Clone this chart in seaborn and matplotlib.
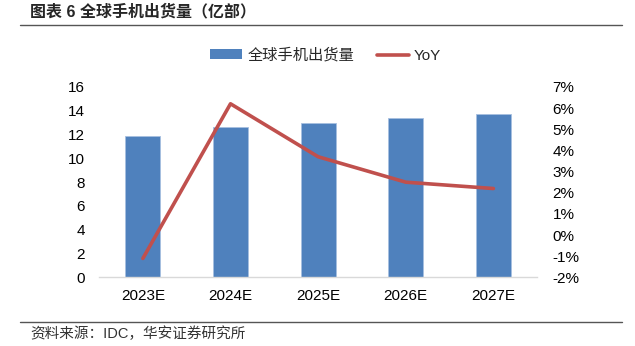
import matplotlib
matplotlib.use("Agg")
import matplotlib.pyplot as plt
import seaborn as sns
import pandas as pd
from matplotlib.patches import Patch
from matplotlib.lines import Line2D
from matplotlib.ticker import FuncFormatter, MultipleLocator

# Global smartphone shipments (100 million units) and year-over-year growth (%)
years = ["2023E", "2024E", "2025E", "2026E", "2027E"]
shipments = [11.9, 12.6, 13.0, 13.4, 13.7]
yoy = [-1.1, 6.2, 3.7, 2.5, 2.2]

bar_label = "全球手机出货量"
line_label = "YoY"
title = "图表 6 全球手机出货量（亿部）"
source = "资料来源：IDC，华安证券研究所"

sns.set_theme(style="white")
plt.rcParams["font.family"] = ["Liberation Sans", "Noto Sans CJK SC", "DejaVu Sans"]

df = pd.DataFrame({"year": years, "shipments": shipments, "yoy": yoy})

fig = plt.figure(figsize=(6.35, 3.46), dpi=100)
ax = fig.add_axes([0.156, 0.198, 0.690, 0.551])

bar_color = "#4F81BD"
line_color = "#C0504D"

sns.barplot(data=df, x="year", y="shipments", color=bar_color, width=0.4,
            saturation=1, edgecolor="#A7BFE0", linewidth=0.6, ax=ax)
ax.set_xlim(-0.5, 4.5)
ax.set_ylim(0, 16)
ax.yaxis.set_major_locator(MultipleLocator(2))
ax.set_xlabel("")
ax.set_ylabel("")
for s in ["top", "right", "left"]:
    ax.spines[s].set_visible(False)
ax.spines["bottom"].set_color("#D9D9D9")
ax.spines["bottom"].set_linewidth(1.0)
ax.tick_params(axis="both", length=0, labelsize=11, colors="black")
ax.tick_params(axis="y", pad=10)
ax.tick_params(axis="x", pad=8)

ax2 = ax.twinx()
sns.lineplot(data=df, x="year", y="yoy", color=line_color, linewidth=2.6,
             sort=False, ax=ax2)
ax2.set_ylim(-2, 7)
ax2.yaxis.set_major_locator(MultipleLocator(1))
ax2.yaxis.set_major_formatter(FuncFormatter(lambda v, p: f"{int(round(v))}%"))
ax2.set_ylabel("")
ax2.set_xlabel("")
for s in ["top", "right", "left", "bottom"]:
    ax2.spines[s].set_visible(False)
ax2.tick_params(axis="y", length=0, labelsize=11, pad=11, colors="black")
ax2.set_xlim(-0.5, 4.5)

handles = [Patch(facecolor=bar_color, edgecolor="none"),
           Line2D([0], [0], color=line_color, linewidth=2.6)]
fig.legend(handles, [bar_label, line_label], loc="center",
           bbox_to_anchor=(0.513, 0.84), ncol=2, frameon=False,
           fontsize=11, handlelength=2.1, handleheight=0.6,
           handletextpad=0.35, columnspacing=1.45)

fig.text(0.047, 0.968, title, fontsize=11.5, fontweight="bold", va="center", ha="left")
fig.add_artist(Line2D([0.032, 0.98], [0.927, 0.927], color="#555555",
                      linewidth=1.0, transform=fig.transFigure))
fig.add_artist(Line2D([0.032, 0.98], [0.069, 0.069], color="#555555",
                      linewidth=1.0, transform=fig.transFigure))
fig.text(0.047, 0.035, source, fontsize=10.5, va="center", ha="left", color="#333333")

fig.savefig("out.png", dpi=100, facecolor="white")
